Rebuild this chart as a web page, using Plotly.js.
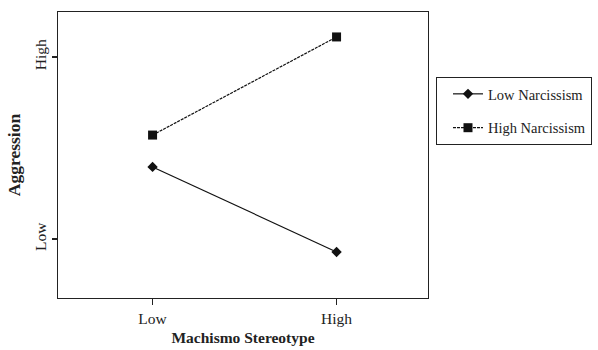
<!DOCTYPE html>
<html>
<head>
<meta charset="utf-8">
<script src="https://cdn.plot.ly/plotly-3.0.1.min.js"></script>
<style>html,body{margin:0;padding:0;background:#fff;}#chart{width:598px;height:350px;}</style>
</head>
<body>
<div id="chart"></div>
<script>
// Data
var categories = [1, 2];                 // Machismo Stereotype: Low, High
var xTickLabels = ['Low', 'High'];
var yTickValues = [1, 2];
var yTickLabels = ['Low', 'High'];
var lowNarcissism = [1.396, 0.929];
var highNarcissism = [1.571, 2.110];
var seriesNames = ['Low Narcissism', 'High Narcissism'];

var font = 'Liberation Serif, Times New Roman, serif';

var traces = [
  {
    x: categories, y: lowNarcissism, name: seriesNames[0], type: 'scatter', mode: 'lines+markers',
    line: {color: '#111', width: 1.2},
    marker: {symbol: 'diamond', size: 8, color: '#111'},
    legendgroup: 'a'
  },
  {
    x: categories, y: highNarcissism, name: seriesNames[1], type: 'scatter', mode: 'lines+markers',
    line: {color: '#111', width: 1.2, dash: '3px,1px'},
    marker: {symbol: 'square', size: 9, color: '#111'},
    legendgroup: 'b'
  }
];

var layout = {
  width: 598, height: 350,
  margin: {l: 58, r: 170, t: 12, b: 52, autoexpand: false},
  paper_bgcolor: '#fff', plot_bgcolor: '#fff',
  font: {family: font, color: '#222', size: 15.5},
  showlegend: true,
  legend: {
    x: 1.0216, y: 0.773, xanchor: 'left', yanchor: 'top',
    bordercolor: '#222', borderwidth: 1, bgcolor: '#fff',
    font: {family: font, size: 14.5, color: '#222'},
    traceorder: 'grouped', tracegroupgap: 12, indentation: 11,
    entrywidth: 150, entrywidthmode: 'pixels'
  },
  xaxis: {
    range: [0.486, 2.497], tickvals: categories, ticktext: xTickLabels,
    ticks: 'outside', ticklen: 6, tickcolor: '#222', tickwidth: 1.2,
    showline: true, linecolor: '#222', linewidth: 1.3, mirror: true,
    showgrid: false, zeroline: false,
    tickfont: {family: font, size: 15.5, color: '#222'},
    title: {text: '<b>Machismo Stereotype</b>', font: {family: font, size: 15.5, color: '#222'}, standoff: 6}
  },
  yaxis: {
    range: [0.676, 2.247], tickvals: yTickValues, ticktext: yTickLabels, tickangle: -90,
    ticks: 'outside', ticklen: 5, tickcolor: '#222', tickwidth: 1.2,
    showline: true, linecolor: '#222', linewidth: 1.3, mirror: true,
    showgrid: false, zeroline: false,
    tickfont: {family: font, size: 15.5, color: '#222'},
    title: {text: '<b>Aggression</b>', font: {family: font, size: 17.5, color: '#222'}, standoff: 6}
  }
};

Plotly.newPlot('chart', traces, layout, {displayModeBar: false, staticPlot: true});
</script>
</body>
</html>
